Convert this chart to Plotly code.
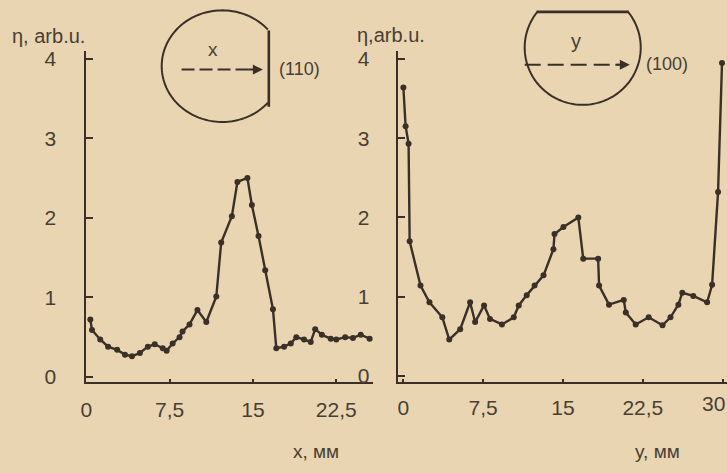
import math
import plotly.graph_objects as go

W, H = 727, 473

# ---- data: left panel, scan along x, flat (110) ----
x_left = [0.36, 0.51, 1.25, 1.96, 2.77, 3.48, 4.11, 4.82, 5.54, 6.16, 6.88, 7.23, 7.77, 8.39,
          8.66, 9.29, 10.0, 10.8, 11.7, 12.14, 13.1, 13.6, 14.5, 14.9, 15.5, 16.1, 16.8, 17.1,
          17.8, 18.4, 18.9, 19.6, 20.2, 20.6, 21.2, 22.0, 22.5, 23.3, 24.0, 24.7, 25.5]
eta_left = [0.72, 0.59, 0.47, 0.38, 0.34, 0.28, 0.26, 0.30, 0.38, 0.41, 0.36, 0.33, 0.42, 0.50,
            0.57, 0.66, 0.84, 0.69, 1.01, 1.69, 2.02, 2.45, 2.50, 2.16, 1.77, 1.34, 0.85, 0.36,
            0.38, 0.42, 0.50, 0.47, 0.44, 0.60, 0.53, 0.48, 0.47, 0.50, 0.49, 0.53, 0.48]

# ---- data: right panel, scan along y, flat (100) ----
y_right = [0.0, 0.21, 0.49, 0.59, 1.61, 2.45, 3.66, 4.31, 5.34, 6.27, 6.74, 7.58, 8.14, 9.26,
           10.37, 10.84, 11.59, 12.33, 13.17, 14.10, 14.20, 15.04, 16.44, 16.90, 18.30, 18.39,
           19.32, 20.71, 20.90, 21.83, 23.05, 24.35, 25.10, 25.84, 26.21, 27.24, 28.54, 29.01,
           29.57, 29.94]
eta_right = [3.64, 3.15, 2.93, 1.70, 1.14, 0.93, 0.74, 0.46, 0.59, 0.93, 0.68, 0.89, 0.72, 0.65,
             0.74, 0.89, 1.02, 1.14, 1.27, 1.60, 1.79, 1.88, 2.00, 1.48, 1.48, 1.14, 0.90, 0.96,
             0.80, 0.65, 0.74, 0.64, 0.74, 0.90, 1.05, 1.01, 0.93, 1.15, 2.32, 3.95]

x_tickvals = [0, 7.5, 15, 22.5]
x_ticktext = ["0", "7,5", "15", "22,5"]
y2_tickvals = [0, 7.5, 15, 22.5, 30]
y2_ticktext = ["0", "7,5", "15", "22,5", ""]   # "30" is written as a label near the edge
last_tick_text = "30"
eta_ticks = [0, 1, 2, 3, 4]

BG = "rgb(233,213,178)"
INK = "rgb(58,48,40)"
TXT = "rgb(72,62,52)"
FONT = "Liberation Sans"


def px(p):
    return p / W


def py(p):
    return 1 - p / H


fig = go.Figure()
fig.add_trace(go.Scatter(x=x_left, y=eta_left, mode="lines+markers", xaxis="x", yaxis="y",
                         line=dict(color=INK, width=2.4), marker=dict(color=INK, size=6),
                         showlegend=False, hoverinfo="skip", cliponaxis=False))
fig.add_trace(go.Scatter(x=y_right, y=eta_right, mode="lines+markers", xaxis="x2", yaxis="y2",
                         line=dict(color=INK, width=2.4), marker=dict(color=INK, size=6),
                         showlegend=False, hoverinfo="skip", cliponaxis=False))

axis_common = dict(showline=True, linecolor=INK, linewidth=2, showgrid=False, zeroline=False,
                   ticks="inside", tickcolor=INK, tickwidth=2,
                   tickfont=dict(family=FONT, size=21, color=TXT))

fig.update_layout(
    width=W, height=H, margin=dict(l=0, r=0, t=0, b=0),
    paper_bgcolor=BG, plot_bgcolor=BG,
    xaxis=dict(domain=[px(81), px(370)], range=[0, 25.8], anchor="y",
               tickvals=x_tickvals, ticktext=x_ticktext, ticklen=3,
               ticklabelstandoff=8, **axis_common),
    yaxis=dict(domain=[py(386), py(48)], range=[-0.062, 4.096], anchor="x",
               tickvals=eta_ticks, ticklen=7, ticklabelstandoff=24, **axis_common),
    xaxis2=dict(domain=[px(395), px(727)], range=[-0.53, 30.41], anchor="y2",
                tickvals=y2_tickvals, ticktext=y2_ticktext, ticklen=3,
                ticklabelstandoff=6, **axis_common),
    yaxis2=dict(domain=[py(386), py(48)], range=[-0.074, 4.10], anchor="x2",
                tickvals=eta_ticks, ticklen=7, ticklabelstandoff=22, **axis_common),
)

shapes = []


def arc_path(cx, cy, rx, ry, a0, a1, n=120):
    pts = []
    for i in range(n + 1):
        a = math.radians(a0 + (a1 - a0) * i / n)
        pts.append((cx + rx * math.cos(a), cy - ry * math.sin(a)))
    return "M " + " L ".join(f"{px(x):.5f},{py(y):.5f}" for x, y in pts)


# left inset wafer with flat on the right
shapes.append(dict(type="path", xref="paper", yref="paper",
                   path=arc_path(218, 63.5, 61, 57, 41, 319),
                   line=dict(color=INK, width=2)))
shapes.append(dict(type="line", xref="paper", yref="paper", x0=px(265), x1=px(265),
                   y0=py(27), y1=py(105), line=dict(color=INK, width=2.6)))
shapes.append(dict(type="line", xref="paper", yref="paper", x0=px(177), x1=px(248),
                   y0=py(67), y1=py(67), line=dict(color=INK, width=2, dash="13px,5px")))
# right inset wafer with flat on top
shapes.append(dict(type="path", xref="paper", yref="paper",
                   path=arc_path(581.5, 44.5, 58.5, 58.5, 141.4, 398.6),
                   line=dict(color=INK, width=2)))
shapes.append(dict(type="line", xref="paper", yref="paper", x0=px(535), x1=px(628),
                   y0=py(8), y1=py(8), line=dict(color=INK, width=2.6)))
shapes.append(dict(type="line", xref="paper", yref="paper", x0=px(523), x1=px(618),
                   y0=py(62), y1=py(62), line=dict(color=INK, width=2, dash="16px,7px")))
fig.update_layout(shapes=shapes)

ann = []
# arrowheads
ann.append(dict(xref="paper", yref="paper", x=px(259), y=py(67), ax=-16, ay=0, text="",
                showarrow=True, arrowhead=2, arrowsize=1, arrowwidth=2, arrowcolor=INK))
ann.append(dict(xref="paper", yref="paper", x=px(629), y=py(62), ax=-16, ay=0, text="",
                showarrow=True, arrowhead=2, arrowsize=1, arrowwidth=2, arrowcolor=INK))


def label(text, x, y, size=19, xanchor="left"):
    ann.append(dict(xref="paper", yref="paper", x=px(x), y=py(y), text=text, showarrow=False,
                    xanchor=xanchor, yanchor="middle",
                    font=dict(family=FONT, size=size, color=TXT)))


label("x", 209, 46, 19, "center")
label("(110)", 273, 66, 18)
label("y", 575, 38, 20, "center")
label("(100)", 643, 61, 18)
label("η, arb.u.", 4, 33, 20)
label("η,arb.u.", 352, 32, 20)
label("x, мм", 313, 457, 19, "center")
label("y, мм", 657, 457, 19, "center")
label(last_tick_text, 713, 408, 21, "center")
fig.update_layout(annotations=ann)

fig.write_html(
    "out.html",
    config={"displayModeBar": False},
    post_script="document.body.style.margin='0';document.body.style.padding='0';"
                "document.documentElement.style.overflow='hidden';",
)
